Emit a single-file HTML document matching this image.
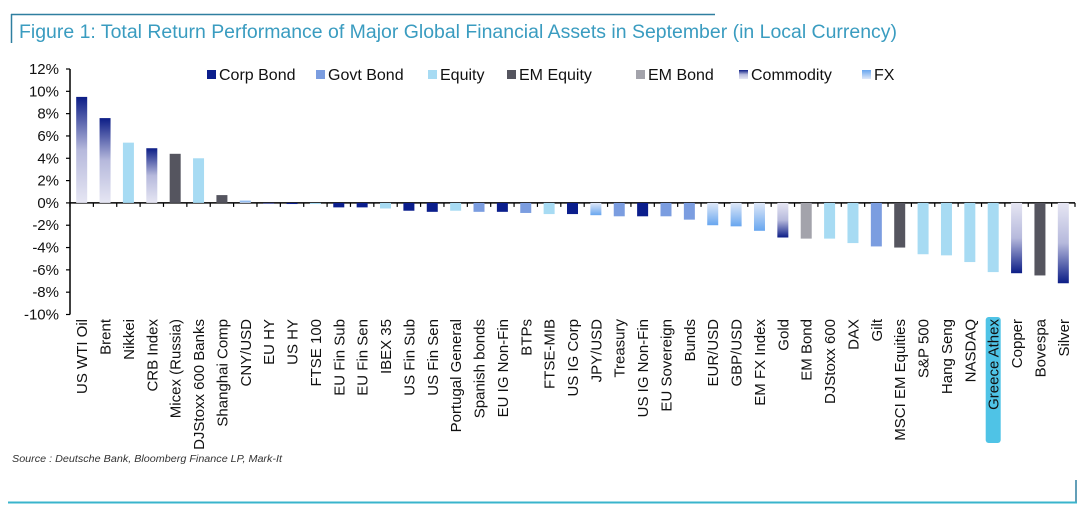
<!DOCTYPE html>
<html><head><meta charset="utf-8"><style>
html,body{margin:0;padding:0;background:#fff;width:1088px;height:507px;overflow:hidden;font-family:"Liberation Sans",sans-serif;}
</style></head><body>
<svg id="chart" width="1088" height="507" xmlns="http://www.w3.org/2000/svg">
<defs>
<linearGradient id="comPos" x1="0" y1="0" x2="0" y2="1"><stop offset="0" stop-color="#0c1d86"/><stop offset="0.5" stop-color="#b6b9dc"/><stop offset="1" stop-color="#e6e6f3"/></linearGradient>
<linearGradient id="comNeg" x1="0" y1="0" x2="0" y2="1"><stop offset="0" stop-color="#e6e6f3"/><stop offset="0.5" stop-color="#b6b9dc"/><stop offset="1" stop-color="#0c1d86"/></linearGradient>
<linearGradient id="fxNeg" x1="0" y1="0" x2="0" y2="1"><stop offset="0" stop-color="#dfe8f8"/><stop offset="1" stop-color="#68a6ef"/></linearGradient>
<linearGradient id="fxPos" x1="0" y1="0" x2="0" y2="1"><stop offset="0" stop-color="#68a6ef"/><stop offset="1" stop-color="#dfe8f8"/></linearGradient>
</defs>
<line x1="11" y1="14.5" x2="715" y2="14.5" stroke="#2f7fa0" stroke-width="1.5"/>
<line x1="11.5" y1="14" x2="11.5" y2="43" stroke="#2f7fa0" stroke-width="1.5"/>
<text x="19" y="38" font-size="19" textLength="878" lengthAdjust="spacingAndGlyphs" fill="#3a9cc0">Figure 1: Total Return Performance of Major Global Financial Assets in September (in Local Currency)</text>
<g id="axes"></g>
<g id="bars"></g>
<g id="legend"></g>
<text x="12" y="462" font-size="10" font-style="italic" textLength="270" lengthAdjust="spacingAndGlyphs" fill="#333">Source : Deutsche Bank, Bloomberg Finance LP, Mark-It</text>
<line x1="1076" y1="480" x2="1076" y2="503" stroke="#2f7fa0" stroke-width="1.5"/>
<line x1="8" y1="502.5" x2="1077" y2="502.5" stroke="#3ab4cc" stroke-width="2"/>
</svg>
<script>
const categories=["US WTI Oil","Brent","Nikkei","CRB Index","Micex (Russia)","DJStoxx 600 Banks","Shanghai Comp","CNY/USD","EU HY","US HY","FTSE 100","EU Fin Sub","EU Fin Sen","IBEX 35","US Fin Sub","US Fin Sen","Portugal General","Spanish bonds","EU IG Non-Fin","BTPs","FTSE-MIB","US IG Corp","JPY/USD","Treasury","US IG Non-Fin","EU Sovereign","Bunds","EUR/USD","GBP/USD","EM FX Index","Gold","EM Bond","DJStoxx 600","DAX","Gilt","MSCI EM Equities","S&P 500","Hang Seng","NASDAQ","Greece Athex","Copper","Bovespa","Silver"];
const values=[9.5,7.6,5.4,4.9,4.4,4.0,0.7,0.2,0.0,-0.1,-0.1,-0.4,-0.4,-0.5,-0.7,-0.8,-0.7,-0.8,-0.8,-0.9,-1.0,-1.0,-1.1,-1.2,-1.2,-1.2,-1.5,-2.0,-2.1,-2.5,-3.1,-3.2,-3.2,-3.6,-3.9,-4.0,-4.6,-4.7,-5.3,-6.2,-6.3,-6.5,-7.2];
const assetClass=["com","com","eq","com","emeq","eq","emeq","fx","corp","corp","eq","corp","corp","eq","corp","corp","eq","govt","corp","govt","eq","corp","fx","govt","corp","govt","govt","fx","fx","fx","com","embond","eq","eq","govt","emeq","eq","eq","eq","eq","com","emeq","com"];
const yTicks=[12,10,8,6,4,2,0,-2,-4,-6,-8,-10];
const legendKeys=["corp","govt","eq","emeq","embond","com","fx"];
const legendLabels=["Corp Bond","Govt Bond","Equity","EM Equity","EM Bond","Commodity","FX"];
const NS="http://www.w3.org/2000/svg";
const x0=70,x1=1075,yTop=69,yBot=314.5,vMax=12,vMin=-10;
const y=v=>yTop+(vMax-v)/(vMax-vMin)*(yBot-yTop);
const step=(x1-x0)/categories.length;
const xc=i=>x0+step*(i+0.5);
const solid={corp:"#0b1e8c",govt:"#7b9de0",eq:"#a7dbf3",emeq:"#55555f",embond:"#a3a3ab"};
function fillFor(k,v){if(k==="com")return v>=0?"url(#comPos)":"url(#comNeg)";if(k==="fx")return v>=0?"url(#fxPos)":"url(#fxNeg)";return solid[k];}
function mk(tag,attrs,parent){const e=document.createElementNS(NS,tag);for(const a in attrs)e.setAttribute(a,attrs[a]);parent.appendChild(e);return e;}
const axes=document.getElementById('axes'),bars=document.getElementById('bars'),legend=document.getElementById('legend');
const ya=mk('line',{x1:x0,y1:yTop,x2:x0,y2:yBot,stroke:"#000","stroke-width":1.5},axes);


yTicks.forEach(t=>{
  const tl=mk('line',{x1:x0-4,y1:y(t),x2:x0,y2:y(t),stroke:"#000","stroke-width":1.2},axes);
  
  
  const tx=mk('text',{x:x0-11,y:y(t)+5,"text-anchor":"end","font-size":15,fill:"#111"},axes);
  tx.textContent=t+"%";
  
  
});
categories.forEach((c,i)=>{
  const v=values[i],k=assetClass[i];
  const top=Math.min(y(v),y(0)),h=Math.max(Math.abs(y(v)-y(0)),0.6);
  const r=mk('rect',{x:xc(i)-5.5,y:top,width:11,height:h,fill:fillFor(k,v)},bars);
  
  
  if(c==="Greece Athex"){
    const hb=mk('rect',{x:xc(i)-7.5,y:317,width:15,height:126,rx:3,fill:"#4fc3e6"},axes);
    
    
  }
  const lb=mk('text',{x:0,y:0,"text-anchor":"end","font-size":15,fill:"#111",transform:`translate(${xc(i)+5.5},${319}) rotate(-90)`},axes);
  lb.textContent=c;
  
  
});
const xa=mk('line',{x1:x0,y1:y(0),x2:x1,y2:y(0),stroke:"#000","stroke-width":1.5},axes);


for(let i=0;i<=categories.length;i++){
  const t=mk('line',{x1:x0+step*i,y1:y(0),x2:x0+step*i,y2:y(0)+4,stroke:"#000","stroke-width":1.2},axes);
  
  
}
const lx=[207,316,428,507,636,739,862];
legendKeys.forEach((k,i)=>{
  const sq=mk('rect',{x:lx[i],y:70,width:9,height:9,fill:k==="com"?"url(#comPos)":k==="fx"?"url(#fxPos)":solid[k]},legend);
  
  
  const t=mk('text',{x:lx[i]+12,y:80,"font-size":16,fill:"#111"},legend);
  t.textContent=legendLabels[i];
  
  
});
</script>
</body></html>
